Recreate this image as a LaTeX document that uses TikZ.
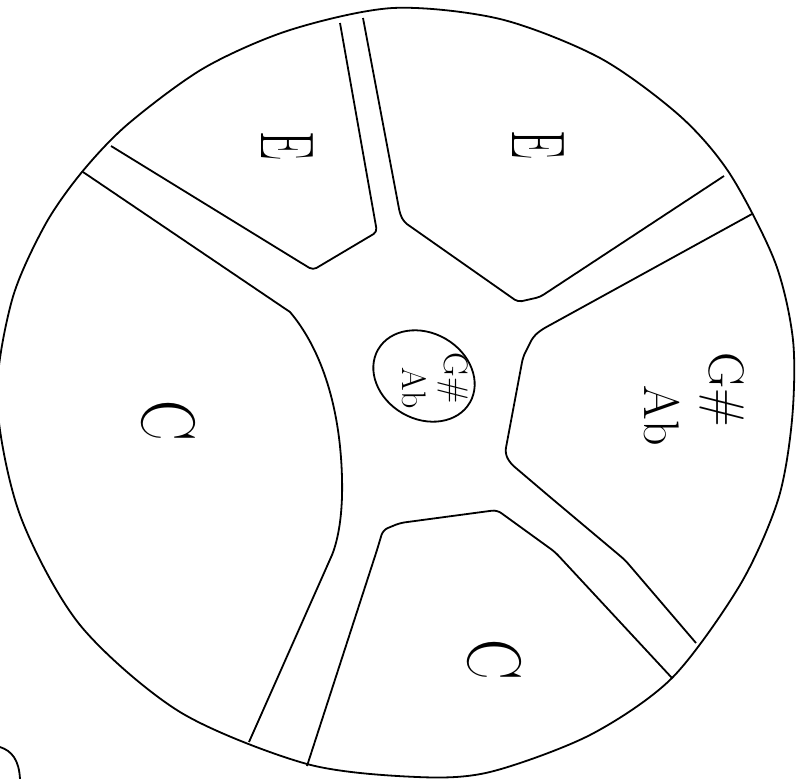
\documentclass[tikz,border=0pt]{standalone}
\begin{document}
\begin{tikzpicture}[x=1pt,y=-1pt,line width=1.8pt,line join=round,
  every node/.style={rotate=-90,inner sep=0pt},
  big/.style={font=\fontsize{76}{76}\selectfont},
  mid/.style={font=\fontsize{50}{50}\selectfont},
  small/.style={font=\fontsize{34}{34}\selectfont}]
\useasboundingbox (0,0) rectangle (801,779);
% rim of the wheel
\draw plot[smooth cycle] coordinates {(393,8) (500,19) (600,58) (680,116) (730,174)
  (775,262) (793,340) (792,420) (778,500) (740,585) (672,678) (590,735) (490,772) (417,777) (307,764)
  (180,712) (80,625) (20,515) (-3,400) (12,300) (45,225) (82,172) (128,124) (204,68) (290,30)};
% spokes
\draw[rounded corners=4pt] (340,23) -- (377,232) -- (313,270) -- (303,264) -- (111,146);
\draw[rounded corners=4pt] (363,18) -- (400,214) -- (404,222) -- (518,302) -- (540,297) -- (724,176);
\draw (83,172) -- (290,312) .. controls (318,345) and (340,400) .. (342,478)
  .. controls (343,515) and (338,540) .. (332,555) -- (249,742);
\draw[rounded corners=5pt] (752,214) -- (541,330) -- (533,337) -- (523,357) -- (505,453)
  -- (510,463) -- (550,497) -- (625,560) -- (696,643);
\draw[rounded corners=5pt] (307,766) -- (377,550) -- (383,530) -- (400,523) -- (497,510)
  -- (555,552) -- (672,678);
% hub
\draw[rotate around={-30:(424,376)}] (424,376) ellipse (53 and 43);
% stray mark
\draw (0,747) .. controls (12,751) and (19,760) .. (20,779);
% notes
\node[big,xscale=0.6] (e1) at (287,146) {E};
\node[big,xscale=0.6] (e2) at (538,145) {E};
\node[big,xscale=0.8] (c1) at (168,421) {C};
\node[big,xscale=0.8] (c2) at (494,660) {C};
\node[mid] (g1) at (722,390) {G\#};
\node[mid] (a1) at (662,416) {Ab};
\node[small] (g0) at (453,378) {G\#};
\node[small] (a0) at (414,388) {Ab};
\end{tikzpicture}
\end{document}
